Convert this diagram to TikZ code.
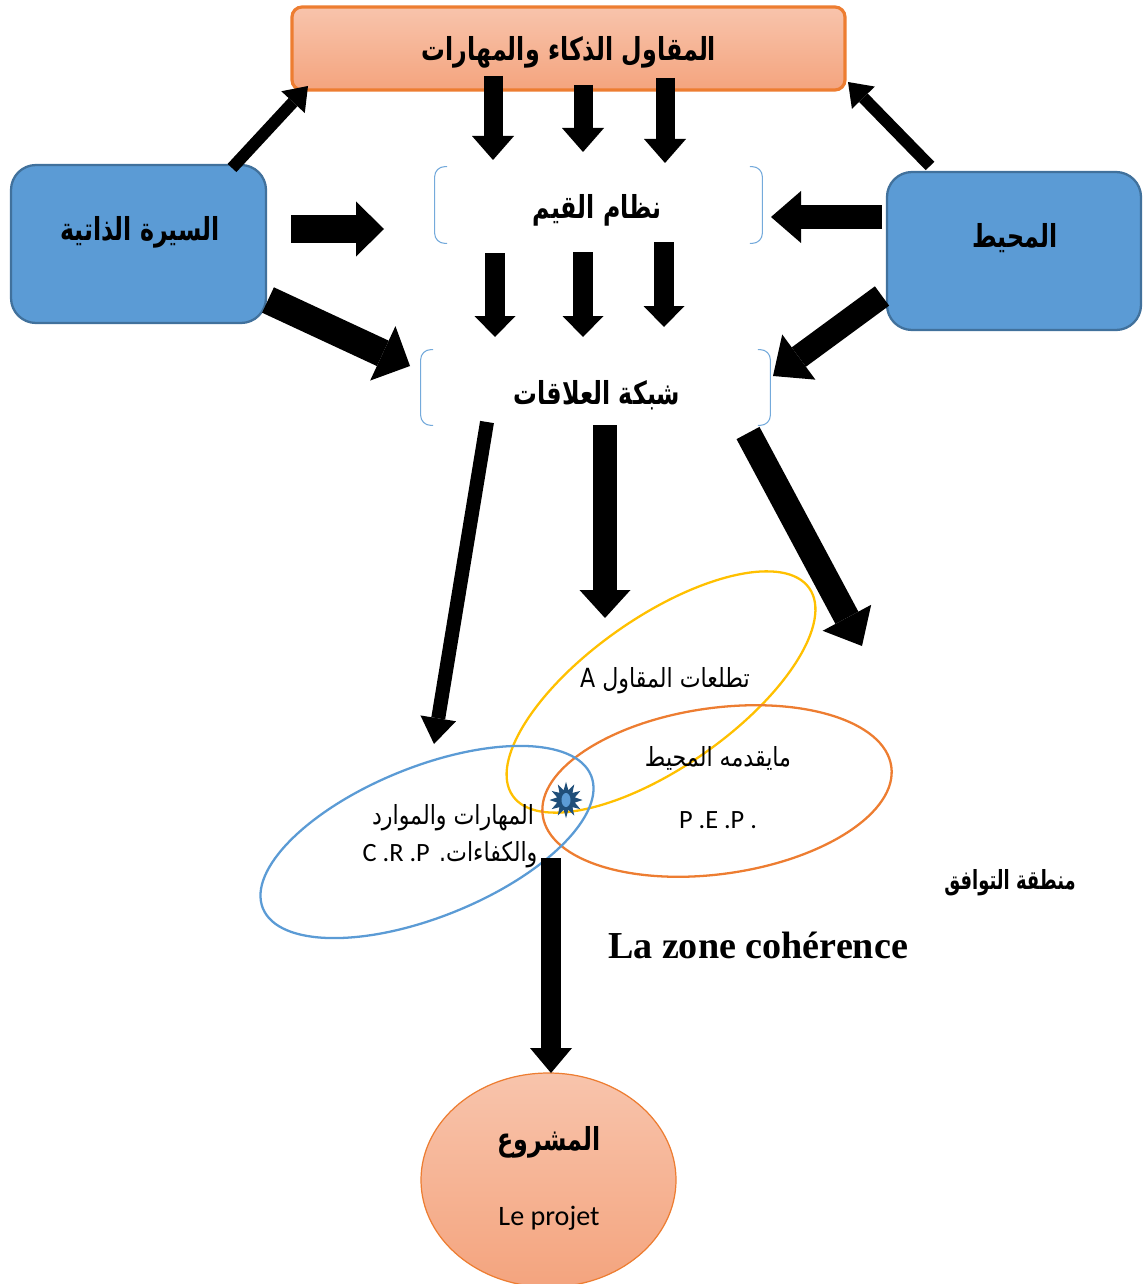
\documentclass[tikz,border=0pt]{standalone}
\usepackage{fontspec}
\setmainfont{Carlito}
\newfontfamily\arabicfont[Script=Arabic,FakeStretch=0.84]{DejaVu Sans}
\newfontfamily\arabictitle[Script=Arabic,FakeStretch=0.75]{DejaVu Sans}
\newfontfamily\arabiczone[Script=Arabic,FakeStretch=0.68]{DejaVu Sans}
\newfontfamily\titleserif{Liberation Serif}
\TeXXeTstate=1
\usetikzlibrary{arrows.meta,shapes.geometric}

\definecolor{peachTop}{HTML}{F8C4AC}
\definecolor{peachBottom}{HTML}{F4A47E}
\definecolor{orangeLine}{HTML}{ED7D31}
\definecolor{boxBlue}{HTML}{5B9BD5}
\definecolor{boxBlueLine}{HTML}{41719C}
\definecolor{ringYellow}{HTML}{FFC000}
\definecolor{starNavy}{HTML}{1F4E79}

\begin{document}
\begin{tikzpicture}[x=0.02cm,y=-0.02cm,
  % thick block arrows: shaft width, head width, head length (in px)
  blk/.style n args={3}{draw=black, line width=#1*0.02cm,
     -{Triangle[width=#2*0.02cm, length=#3*0.02cm, line width=0pt]}},
  peachbox/.style={draw=orangeLine, top color=peachTop, bottom color=peachBottom},
  bluebox/.style={draw=boxBlueLine, fill=boxBlue, line width=1.3pt, rounded corners=0.5cm},
  bracketbox/.style={inner sep=0pt},
  bracketline/.style={draw=boxBlue!85, line width=0.6pt, rounded corners=0.2cm},
  titleAr/.style={font=\arabictitle\bfseries\fontsize{18}{22}\selectfont},
  plainAr/.style={font=\arabicfont\fontsize{15}{18}\selectfont},
  latin/.style={font=\fontsize{15}{18}\selectfont},
  ring/.style={ellipse, draw, line width=1.3pt, inner sep=0pt},
]
\clip (0,0) rectangle (1145,1284);

% ---- boxes ----
\node[peachbox, line width=1.8pt, rounded corners=0.2cm, minimum width=553*0.02cm, minimum height=83*0.02cm] (entre) at (568.5,48.5) {};
\node[titleAr] (entreT) at (569,52) {\beginR المقاول الذكاء والمهارات\endR};

\node[bluebox, minimum width=255*0.02cm, minimum height=158*0.02cm] (cv) at (138.5,244) {};
\node[titleAr] (cvT) at (140,232) {\beginR السيرة الذاتية\endR};

\node[bluebox, minimum width=254*0.02cm, minimum height=158*0.02cm] (env) at (1014,251) {};
\node[titleAr] (envT) at (1015,238) {\beginR المحيط\endR};

\node[bracketbox, minimum width=327*0.02cm, minimum height=76*0.02cm] (vals) at (598.5,205) {};
\node[titleAr] (valsT) at (597,210) {\beginR نظام القيم\endR};
\draw[bracketline] ([xshift=0.25cm]vals.north west) -- (vals.north west) -- (vals.south west) -- ([xshift=0.25cm]vals.south west);
\draw[bracketline] ([xshift=-0.25cm]vals.north east) -- (vals.north east) -- (vals.south east) -- ([xshift=-0.25cm]vals.south east);

\node[bracketbox, minimum width=349*0.02cm, minimum height=75*0.02cm] (rel) at (595.5,387.5) {};
\node[titleAr] (relT) at (597,395) {\beginR شبكة العلاقات\endR};
\draw[bracketline] ([xshift=0.25cm]rel.north west) -- (rel.north west) -- (rel.south west) -- ([xshift=0.25cm]rel.south west);
\draw[bracketline] ([xshift=-0.25cm]rel.north east) -- (rel.north east) -- (rel.south east) -- ([xshift=-0.25cm]rel.south east);

% ---- overlapping zones ----
\node[ring, draw=ringYellow, minimum width=362*0.02cm, minimum height=150*0.02cm, rotate=35] (aspir) at (661,692) {};
\node[ring, draw=orangeLine, minimum width=352*0.02cm, minimum height=166*0.02cm, rotate=8] (offer) at (717,791) {};
\node[ring, draw=boxBlue, minimum width=354*0.02cm, minimum height=150*0.02cm, rotate=22] (skills) at (427,842) {};

\node[plainAr] (aspirT) at (665,681) {\beginR تطلعات المقاول A\endR};
\node[plainAr] (offerT) at (718,758) {\beginR مايقدمه المحيط\endR};
\node[latin] (offerL) at (718,820) {P .E .P .};
\node[plainAr] (skillsT) at (453,818) {\beginR المهارات والموارد\endR};
\node[plainAr] (skillsL) at (450,855) {\beginR والكفاءات. \beginL{\fontspec{Carlito}C .R .P}\endL\endR};

\node[star, star points=12, star point ratio=1.8, fill=starNavy, inner sep=0pt, minimum size=33*0.02cm, yscale=1.1] (spark) at (566,800) {};
\node[ellipse, fill=boxBlue, inner sep=0pt, minimum width=9*0.02cm, minimum height=14*0.02cm] (sparkCore) at (566,800) {};

\node[font=\arabiczone\bfseries\fontsize{15}{18}\selectfont] (zoneAr) at (1010,883) {\beginR منطقة التوافق\endR};
\node[font=\titleserif\bfseries\fontsize{21.7}{25}\selectfont] (zoneFr) at (758,945) {La zone cohérence};

\node[ellipse, peachbox, line width=0.7pt, minimum width=255*0.02cm, minimum height=214*0.02cm] (proj) at (548.5,1180) {};
\node[titleAr] (projT) at (549,1142) {\beginR المشروع\endR};
\node[latin, font=\fontsize{16}{19}\selectfont] (projL) at (549,1218) {Le projet};

% ---- arrow end points ----
\coordinate (a1s) at (493,76);  \coordinate (a1e) at (493,160);
\coordinate (a2s) at (583,85);  \coordinate (a2e) at (583,152);
\coordinate (a3s) at (665,78);  \coordinate (a3e) at (665,163);
\coordinate (b1s) at (495,253); \coordinate (b1e) at (495,337);
\coordinate (b2s) at (583,252); \coordinate (b2e) at (583,337);
\coordinate (b3s) at (664,242); \coordinate (b3e) at (664,327);
\coordinate (cvUp) at (232,168);   \coordinate (cvUpE) at (308,86);
\coordinate (envUp) at (930,166);  \coordinate (envUpE) at (848,82);
\coordinate (cvR) at (291,229);    \coordinate (cvRE) at (384,229);
\coordinate (envL) at (882,217);   \coordinate (envLE) at (771,217);
\coordinate (cvD) at (268,300);    \coordinate (cvDE) at (410,366);
\coordinate (envD) at (882,296);   \coordinate (envDE) at (773,376);
\coordinate (relL) at (487,422);   \coordinate (relLE) at (434,744);
\coordinate (relM) at (605,425);   \coordinate (relME) at (605,618);
\coordinate (relR) at (748,433);   \coordinate (relRE) at (862,646);
\coordinate (skD) at (551,858);    \coordinate (skDE) at (551,1073);

% ---- arrows ----
\draw[blk={19}{42}{24}] (a1s) -- (a1e);
\draw[blk={19}{42}{24}] (a2s) -- (a2e);
\draw[blk={19}{42}{24}] (a3s) -- (a3e);
\draw[blk={20}{41}{21}] (b1s) -- (b1e);
\draw[blk={20}{41}{21}] (b2s) -- (b2e);
\draw[blk={20}{41}{21}] (b3s) -- (b3e);
\draw[blk={12}{32}{22}] (cvUp) -- (cvUpE);
\draw[blk={12}{32}{22}] (envUp) -- (envUpE);
\draw[blk={27}{55}{28}] (cvR) -- (cvRE);
\draw[blk={24}{52}{30}] (envL) -- (envLE);
\draw[blk={28}{60}{30}] (cvD) -- (cvDE);
\draw[blk={24}{56}{32}] (envD) -- (envDE);
\draw[blk={14}{36}{26}] (relL) -- (relLE);
\draw[blk={24}{51}{28}] (relM) -- (relME);
\draw[blk={26}{55}{32}] (relR) -- (relRE);
\draw[blk={20}{42}{25}] (skD) -- (skDE);
\end{tikzpicture}
\end{document}
